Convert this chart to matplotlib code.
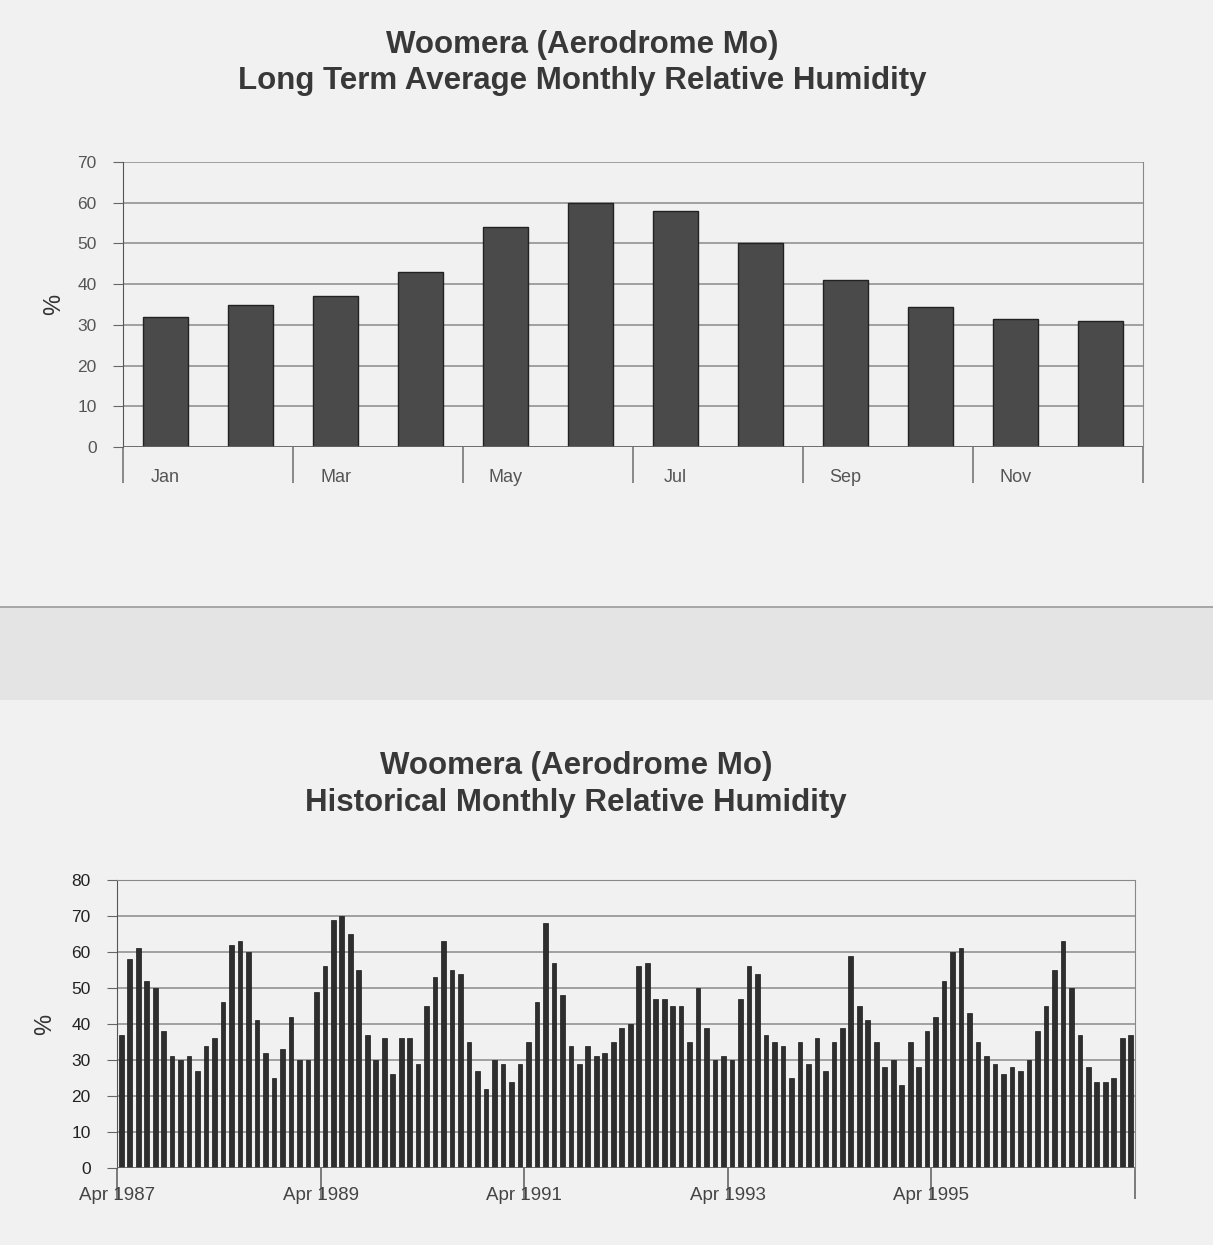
import matplotlib
matplotlib.use("Agg")
import matplotlib.pyplot as plt
from matplotlib.patches import Rectangle

# long term monthly averages (%)
months = ["Jan", "Feb", "Mar", "Apr", "May", "Jun",
          "Jul", "Aug", "Sep", "Oct", "Nov", "Dec"]
avg_rh = [32, 35, 37, 43, 54, 60, 58, 50, 41, 34.5, 31.5, 31]

# historical monthly values, Apr 1987 .. Mar 1997 (%)
hist_rh = [
    37, 58, 61, 52, 50, 38, 31, 30, 31, 27, 34, 36,
    46, 62, 63, 60, 41, 32, 25, 33, 42, 30, 30, 49,
    56, 69, 70, 65, 55, 37, 30, 36, 26, 36, 36, 29,
    45, 53, 63, 55, 54, 35, 27, 22, 30, 29, 24, 29,
    35, 46, 68, 57, 48, 34, 29, 34, 31, 32, 35, 39,
    40, 56, 57, 47, 47, 45, 45, 35, 50, 39, 30, 31,
    30, 47, 56, 54, 37, 35, 34, 25, 35, 29, 36, 27,
    35, 39, 59, 45, 41, 35, 28, 30, 23, 35, 28, 38,
    42, 52, 60, 61, 43, 35, 31, 29, 26, 28, 27, 30,
    38, 45, 55, 63, 50, 37, 28, 24, 24, 25, 36, 37,
]
hist_ticklabels = ["Apr 1987", "Apr 1989", "Apr 1991", "Apr 1993", "Apr 1995", ""]

W, H = 1213, 1245
BG = "#f1f1f1"
fig = plt.figure(figsize=(W / 100, H / 100), dpi=100, facecolor=BG)

# scanner fold band between the two pages
fig.patches.append(Rectangle((0, 1 - 700 / H), 1, 93 / H, transform=fig.transFigure,
                             facecolor="#e4e4e4", edgecolor="none", zorder=0))
fig.lines.append(plt.Line2D([0, 1], [1 - 607 / H, 1 - 607 / H], transform=fig.transFigure,
                            color="#9a9a9a", lw=1.2))

title_kw = dict(ha="center", va="center", fontsize=22.5, fontweight="bold",
                family="Liberation Sans", color="#383838")
fig.text(582 / W, 1 - 45 / H, "Woomera (Aerodrome Mo)", **title_kw)
fig.text(582 / W, 1 - 81 / H, "Long Term Average Monthly Relative Humidity", **title_kw)
fig.text(576 / W, 1 - 766 / H, "Woomera (Aerodrome Mo)", **title_kw)
fig.text(576 / W, 1 - 803 / H, "Historical Monthly Relative Humidity", **title_kw)


def style_axes(ax, ymax, label_color, ylabel_pad):
    ax.set_facecolor(BG)
    ax.set_ylim(0, ymax)
    ax.set_yticks(range(0, ymax + 1, 10))
    ax.yaxis.grid(True, color="#8a8a8a", lw=1.1)
    ax.set_axisbelow(True)
    for side in ["top", "bottom"]:
        ax.spines[side].set_visible(False)
    ax.spines["left"].set_color("#555555")
    ax.spines["right"].set_color("#888888")
    ax.axhline(0, color="#666666", lw=1.2, zorder=3)
    ax.tick_params(axis="y", length=7, color="#666666", labelsize=12.5,
                   labelcolor=label_color, pad=12)
    for t in ax.get_yticklabels():
        t.set_family("Liberation Sans")
    ax.set_ylabel("%", fontsize=17, color="#333333", family="Liberation Sans",
                  labelpad=ylabel_pad)


# --- top chart: long term averages
ax1 = fig.add_axes([123 / W, 1 - 447 / H, 1020 / W, 285 / H])
style_axes(ax1, 70, "#555555", 9)
ax1.bar(range(len(months)), avg_rh, width=0.52, color="#4a4a4a",
        edgecolor="#222222", lw=1, zorder=2)
ax1.set_xlim(-0.5, 11.5)
ax1.set_xticks([i - 0.5 for i in range(0, 13, 2)])
ax1.set_xticklabels([])
ax1.tick_params(axis="x", which="major", length=26, color="#777777", width=1.2)
ax1.set_xticks(range(0, 12, 2), minor=True)
ax1.set_xticklabels(months[::2], minor=True, fontsize=13, color="#555555",
                    family="Liberation Sans")
ax1.tick_params(axis="x", which="minor", length=0, pad=16)

# --- bottom chart: historical series
ax2 = fig.add_axes([117 / W, 1 - 1168 / H, 1018 / W, 288 / H])
style_axes(ax2, 80, "#222222", 11)
ax2.bar(range(len(hist_rh)), hist_rh, width=0.55, color="#2e2e2e",
        edgecolor="#1a1a1a", lw=0.5, zorder=2)
ax2.set_xlim(-0.5, len(hist_rh) - 0.5)
ax2.set_xticks([i - 0.5 for i in range(0, len(hist_rh) + 1, 24)])
ax2.set_xticklabels(hist_ticklabels, fontsize=13.5, color="#444444",
                    family="Liberation Sans")
ax2.tick_params(axis="x", length=22, color="#666666", width=1.2, pad=-8)
ax2.spines["top"].set_visible(True)
ax2.spines["top"].set_color("#888888")

fig.savefig("out.png", dpi=100, facecolor=BG)
